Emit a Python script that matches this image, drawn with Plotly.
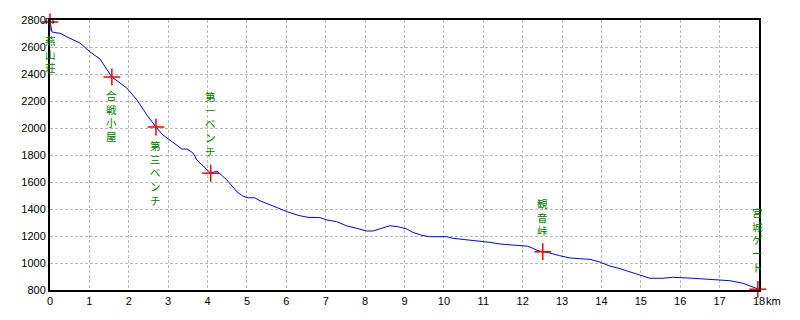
import plotly.graph_objects as go

# Elevation profile (km, m)
dist_km = [0, 0.05, 0.28, 0.43, 0.76, 1.02, 1.27, 1.45, 1.57, 1.95, 2.21, 2.46, 2.69, 2.87,
           3.12, 3.35, 3.48, 3.63, 3.73, 3.98, 4.08, 4.24, 4.49, 4.75, 4.9, 5.03, 5.2, 5.33,
           5.58, 5.84, 6.04, 6.3, 6.55, 6.85, 7.03, 7.28, 7.54, 7.79, 8.04, 8.2, 8.42, 8.63,
           8.83, 9.06, 9.21, 9.44, 9.64, 10.07, 10.23, 10.66, 11.0, 11.17, 11.42, 11.75, 12.13,
           12.26, 12.39, 12.51, 12.69, 12.94, 13.2, 13.45, 13.71, 13.96, 14.21, 14.47, 14.72,
           14.97, 15.23, 15.56, 15.81, 16.32, 16.83, 17.26, 17.59, 17.84, 18.0]
elev_m = [2790, 2711, 2700, 2674, 2630, 2563, 2511, 2430, 2378, 2296, 2207, 2096, 2007, 1948,
          1896, 1844, 1844, 1815, 1763, 1689, 1665, 1681, 1615, 1526, 1495, 1483, 1483, 1461,
          1430, 1400, 1378, 1353, 1338, 1336, 1319, 1306, 1274, 1257, 1237, 1237, 1257, 1276,
          1269, 1252, 1227, 1205, 1195, 1195, 1183, 1170, 1158, 1153, 1141, 1131, 1124,
          1109, 1091, 1084, 1074, 1054, 1037, 1032, 1027, 1007, 978, 958, 936,
          909, 887, 887, 894, 887, 879, 869, 850, 825, 805]

# Waypoints
wp_names = ["燕山荘", "合戦小屋", "第三ベンチ", "第一ベンチ", "観音峠", "宮城ゲート"]
wp_km = [0.0, 1.57, 2.69, 4.08, 12.51, 17.97]
wp_elev = [2785, 2378, 2007, 1665, 1084, 805]
wp_label_below = [True, True, True, False, False, False]

x_ticks = list(range(0, 19))
x_ticktext = [str(v) for v in x_ticks]
y_ticks = list(range(800, 2801, 200))
y_ticktext = [str(v) for v in y_ticks]

fig = go.Figure()
fig.add_trace(go.Scatter(x=dist_km, y=elev_m, mode="lines",
                         line=dict(color="#0000ff", width=1), hoverinfo="skip",
                         showlegend=False))
fig.add_trace(go.Scatter(x=wp_km, y=wp_elev, mode="markers",
                         marker=dict(symbol="cross-thin", size=12,
                                     line=dict(color="#ff0000", width=1.5)),
                         showlegend=False, cliponaxis=False))

for name, xk, ye, below in zip(wp_names, wp_km, wp_elev, wp_label_below):
    txt = "<br>".join(list(name))
    fig.add_annotation(x=xk, y=ye, text=txt, showarrow=False,
                       xanchor="center",
                       yanchor="top" if below else "bottom",
                       yshift=-9 if below else 12,
                       font=dict(family="Noto Sans CJK JP", size=10.5, color="#008000"))

fig.add_annotation(x=0, y=2800, xref="paper", yref="y", text="m", showarrow=False,
                   xanchor="left", xshift=-7, yanchor="middle",
                   font=dict(family="Liberation Sans", size=11, color="black"))
fig.add_annotation(x=18, y=0, xref="x", yref="paper", text="km", showarrow=False,
                   xanchor="left", xshift=5, yanchor="top", yshift=-3,
                   font=dict(family="Liberation Sans", size=11, color="black"))

grid = dict(showgrid=True, gridcolor="#b8b8b8", griddash="3px,2px", gridwidth=1,
            showline=True, linecolor="black", linewidth=2, mirror=True,
            zeroline=False, ticks="",
            tickfont=dict(family="Liberation Sans", size=11, color="black"))
fig.update_xaxes(range=[0, 18], tickvals=x_ticks, ticktext=x_ticktext, **grid)
fig.update_yaxes(range=[800, 2800], tickvals=y_ticks, ticktext=y_ticktext, **grid)

fig.update_layout(width=800, height=320, margin=dict(l=50, r=41, t=20, b=30),
                  plot_bgcolor="white", paper_bgcolor="white")

fig.write_html("out.html")
